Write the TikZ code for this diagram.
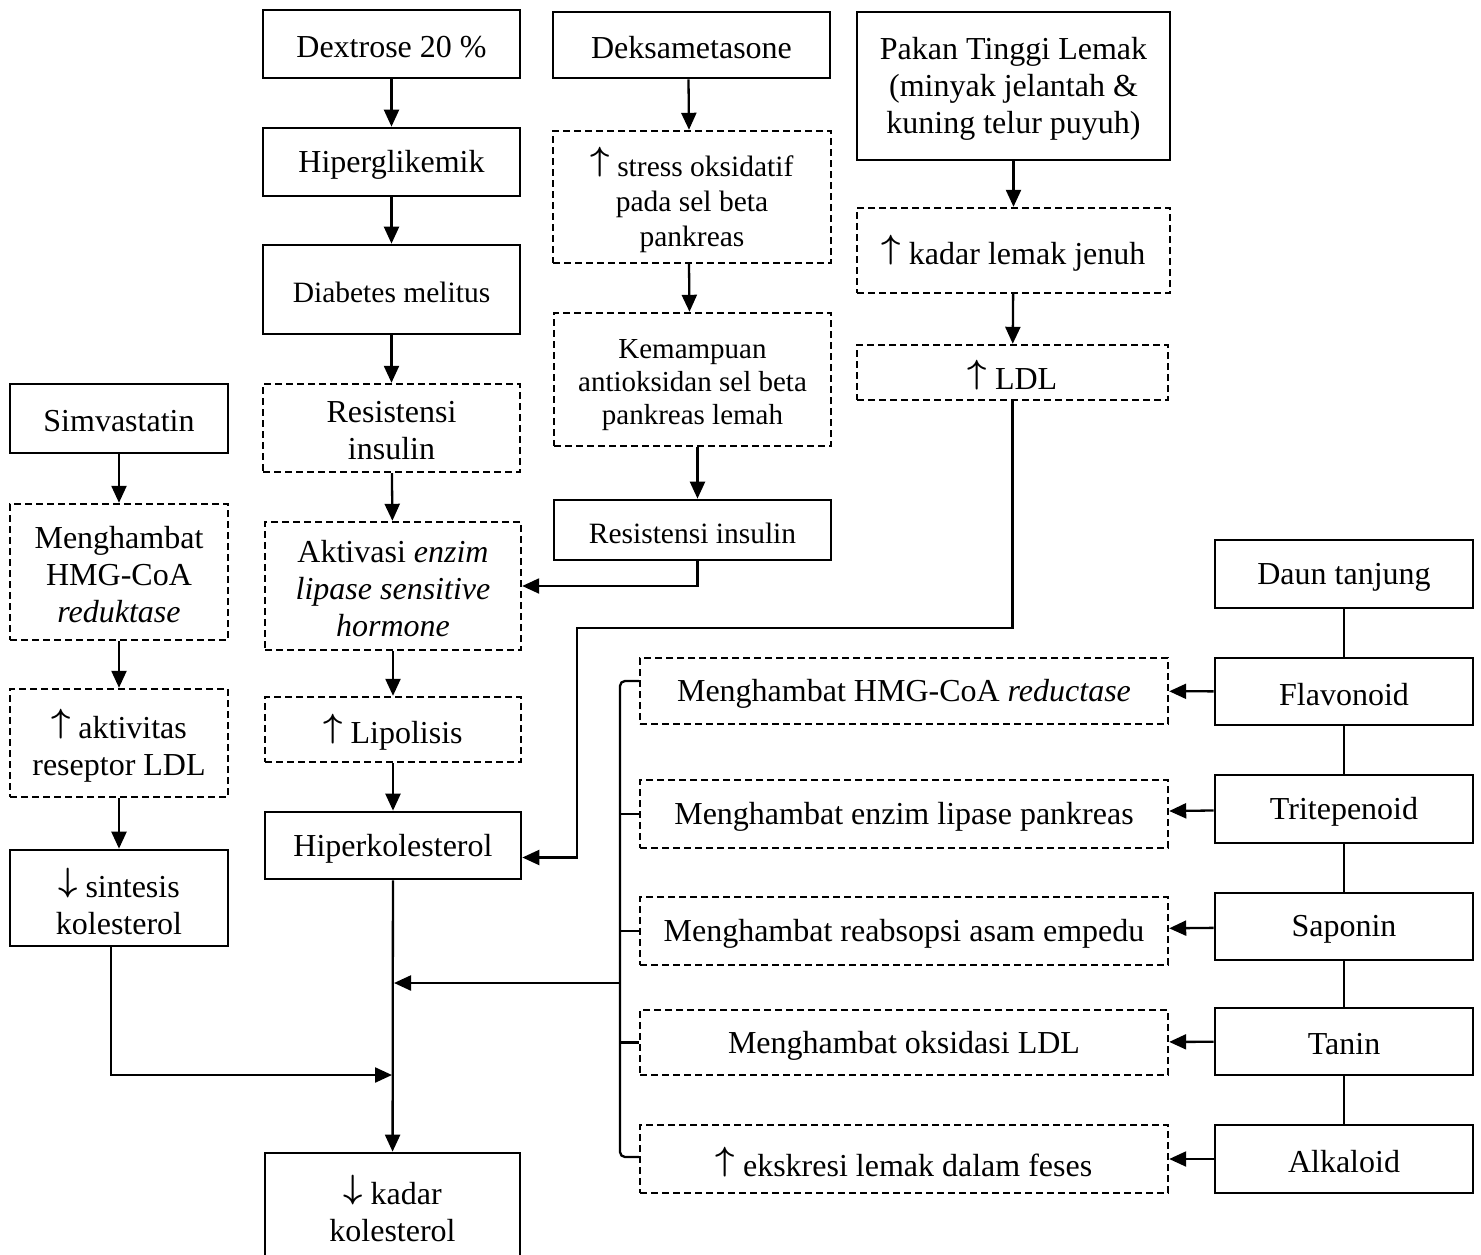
\documentclass[tikz,border=0pt]{standalone}
\usepackage{fontspec}
\setmainfont{Liberation Serif}
\usetikzlibrary{arrows.meta,calc}
\newcommand\mkbox[7]{\node[#2,minimum width={(#5-#3)*1pt},minimum height={(#6-#4)*1pt}] (#1) at ({(#3+#5)/2},{(#4+#6)/2}) {};
  \node[#2,draw=none,minimum width=0pt,minimum height=0pt] at ([yshift=-3pt]#1.center) {#7};}
\newcommand\up{\raisebox{6pt}{\scalebox{1.35}{\fontsize{24.88}{30}\selectfont\boldmath$\uparrow$}}}
\newcommand\dn{\raisebox{6pt}{\scalebox{1.35}{\fontsize{24.88}{30}\selectfont\boldmath$\downarrow$}}}
\begin{document}
\begin{tikzpicture}[x=1pt,y=-1pt,
  box/.style={draw,line width=2.7pt,inner sep=0pt,align=center,font=\fontsize{32}{37}\selectfont},
  dbox/.style={box,line width=2.4pt,dash pattern=on 7pt off 4pt},
  sm/.style={font=\fontsize{29.5}{35}\selectfont},
  arr/.style={line width=2.3pt,-{Triangle[length=17pt,width=15pt]}},
  ln/.style={line width=2.3pt}]
\useasboundingbox (0,0) rectangle (1481,1255);
% column 1 (Dextrose)
\mkbox{dex}{box}{263}{10}{520}{78}{Dextrose 20 \%}
\mkbox{hipg}{box}{263}{128}{520}{196}{Hiperglikemik}
\mkbox{dm}{box,sm}{263}{245}{520}{334}{Diabetes melitus}
\mkbox{res1}{dbox}{263}{384}{520}{472}{Resistensi\\insulin}
\mkbox{akt}{dbox}{265}{522}{521}{650}{Aktivasi \textit{enzim}\\\textit{lipase sensitive}\\\textit{hormone}}
\mkbox{lip}{dbox}{265}{697}{521}{762}{\up\ Lipolisis}
\mkbox{hiper}{box}{265}{812}{521}{879}{Hiperkolesterol}
\mkbox{kadar}{box}{265}{1153}{520}{1258}{\dn\ kadar\\kolesterol}
% Simvastatin column
\mkbox{sim}{box}{10}{384}{228}{453}{Simvastatin}
\mkbox{simb}{dbox}{10}{504}{228}{640}{Menghambat\\HMG-CoA\\\textit{reduktase}}
\mkbox{simc}{dbox}{10}{689}{228}{797}{\up\ aktivitas\\reseptor LDL}
\mkbox{simd}{box}{10}{850}{228}{946}{\dn\ sintesis\\kolesterol}
% Deksametasone column
\mkbox{dek}{box}{553}{12}{830}{78}{Deksametasone}
\mkbox{str}{dbox,sm}{553}{131}{831}{263}{\up\ stress oksidatif\\pada sel beta\\pankreas}
\mkbox{kem}{dbox}{554}{313}{831}{446}{}
\node[box,draw=none,font=\fontsize{29}{33}\selectfont] (kemtxt) at ([yshift=-6pt]kem.center) {Kemampuan\\antioksidan sel beta\\pankreas lemah};
\mkbox{res2}{box,sm}{554}{500}{831}{560}{Resistensi insulin}
% Pakan column
\mkbox{pak}{box}{857}{12}{1170}{160}{Pakan Tinggi Lemak\\(minyak jelantah \&\\kuning telur puyuh)}
\mkbox{lem}{dbox}{857}{208}{1170}{293}{\up\ kadar lemak jenuh}
\mkbox{ldl}{dbox}{857}{345}{1168}{400}{\up\ LDL}
% Daun tanjung column
\mkbox{daun}{box}{1215}{540}{1473}{608}{Daun tanjung}
\mkbox{fla}{box}{1215}{658}{1473}{725}{Flavonoid}
\mkbox{tri}{box}{1215}{775}{1473}{843}{Tritepenoid}
\mkbox{sap}{box}{1215}{893}{1473}{960}{Saponin}
\mkbox{tan}{box}{1215}{1008}{1473}{1075}{Tanin}
\mkbox{alk}{box}{1215}{1125}{1473}{1193}{Alkaloid}
% effect boxes
\mkbox{ea}{dbox}{640}{658}{1168}{724}{Menghambat HMG-CoA \textit{reductase}}
\mkbox{eb}{dbox}{640}{780}{1168}{848}{Menghambat enzim lipase pankreas}
\mkbox{ec}{dbox}{640}{897}{1168}{965}{Menghambat reabsopsi asam empedu}
\mkbox{ed}{dbox}{640}{1010}{1168}{1075}{Menghambat oksidasi LDL}
\mkbox{ee}{dbox}{640}{1125}{1168}{1193}{\up\ ekskresi lemak dalam feses}
% vertical chains
\draw[arr] (dex) -- (hipg);
\draw[arr] (hipg) -- (dm);
\draw[arr] (dm) -- (res1);
\draw[arr] (res1) -- (akt);
\draw[arr] (akt) -- (lip);
\draw[arr] (lip) -- (hiper);
\draw[arr] (hiper) -- (kadar);
\draw[arr] (sim) -- (simb);
\draw[arr] (simb) -- (simc);
\draw[arr] (simc) -- (simd);
\draw[arr] ([xshift=-3pt]dek.south) -- ([xshift=-3pt]str.north);
\draw[arr] ([xshift=-3pt]str.south) -- ([xshift=-3pt]kem.north);
\draw[arr] ([xshift=5pt]kem.south) -- ([xshift=5pt]res2.north);
\draw[arr] (pak) -- (lem);
\draw[arr] (lem) -- (ldl);
% Daun tanjung chain (no arrows)
\draw[ln] (daun) -- (fla);
\draw[ln] (fla) -- (tri);
\draw[ln] (tri) -- (sap);
\draw[ln] (sap) -- (tan);
\draw[ln] (tan) -- (alk);
% chemicals to effects
\draw[arr] (fla) -- (ea);
\draw[arr] (tri) -- (eb);
\draw[arr] (sap) -- (ec);
\draw[arr] (tan) -- (ed);
\draw[arr] (alk) -- (ee);
% res2 to aktivasi
\draw[arr] ([xshift=5pt]res2.south) |- (akt.east);
% LDL to hiperkolesterol
\coordinate (ldlbend) at (577,628);
\draw[arr] (ldl.south) |- (ldlbend) |- ([yshift=-12pt]hiper.east);
% bracket
\coordinate (brtop) at (620,681);
\coordinate (brbot) at (620,1157);
\draw[ln,rounded corners=5pt] ([yshift=10pt]ea.west) -- (brtop) -- (brbot) -- ([yshift=2pt]ee.west);
\draw[ln] (eb.west) -- (eb.west -| brtop);
\draw[ln] (ec.west) -- (ec.west -| brtop);
\draw[ln] (ed.west) -- (ed.west -| brtop);
\coordinate (brmid) at (620,983);
\coordinate (jA) at ($(hiper.south |- brmid)+(1,0)$);
\draw[arr] (brmid) -- (jA);
% sintesis to main line
\coordinate (jB) at ($(hiper.south |- 0,1075)+(-1,0)$);
\draw[arr] ([xshift=-8pt]simd.south) |- (jB);
\end{tikzpicture}
\end{document}
